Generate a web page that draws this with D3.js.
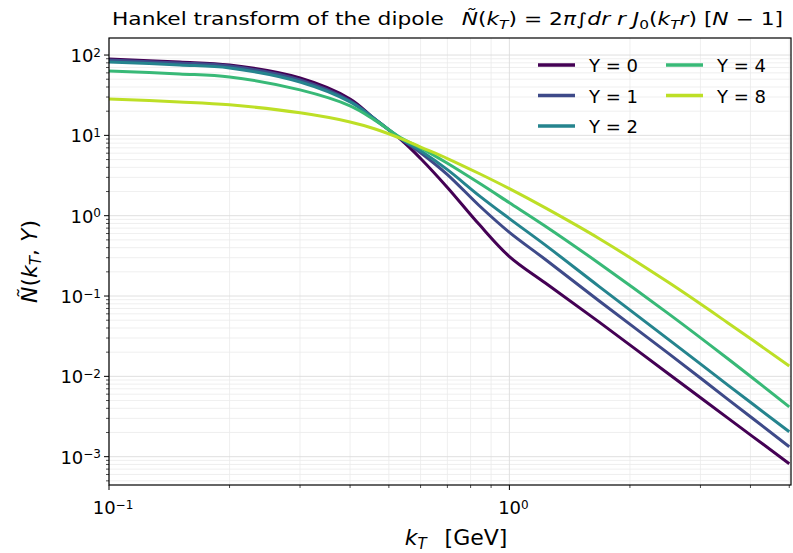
<!DOCTYPE html>
<html>
<head>
<meta charset="utf-8">
<script src="https://cdn.jsdelivr.net/npm/d3@7"></script>
<style>
  body { margin: 0; background: #fff; }
  text { font-family: "DejaVu Sans", sans-serif; fill: #000; }
</style>
</head>
<body>
<svg id="chart" width="793" height="553"></svg>
<script>
// kT grid [GeV]
var kT = [0.1, 0.15, 0.2, 0.3, 0.4, 0.46, 0.54, 0.6, 0.7, 0.84, 1.0, 1.23, 1.67, 2.5, 3.5, 5.0];

// rapidities and curve values
var rapidities = [0, 1, 2, 4, 8];
var N_Y0 = [89.2, 81.9, 75.2, 51.8, 28.4, 16.1, 8.57, 5.16, 2.25, 0.78, 0.31, 0.145, 0.048, 0.0107, 0.00306, 0.000818];
var N_Y1 = [86.7, 79.6, 73.0, 48.9, 26.9, 16.1, 8.82, 6.08, 3.25, 1.34, 0.62, 0.285, 0.088, 0.0192, 0.00525, 0.00133];
var N_Y2 = [81.9, 75.2, 69.0, 46.2, 26.1, 16.1, 8.82, 6.44, 3.74, 1.78, 0.92, 0.43, 0.133, 0.0287, 0.0079, 0.00204];
var N_Y4 = [63.3, 58.1, 53.3, 36.8, 23.3, 15.6, 9.1, 7.0, 4.5, 2.55, 1.45, 0.74, 0.258, 0.0600, 0.0168, 0.00417];
var N_Y8 = [28.4, 26.1, 24.0, 19.1, 14.7, 12.1, 9.0, 7.15, 5.15, 3.35, 2.17, 1.25, 0.524, 0.147, 0.0469, 0.01345];

var xTicks = [0.1, 1];
var yTicks = [1e-3, 1e-2, 1e-1, 1, 10, 100];

var series = [N_Y0, N_Y1, N_Y2, N_Y4, N_Y8];
var colorT = [0, 0.225, 0.45, 0.675, 0.9];

var margin = { left: 109, right: 2, top: 38, bottom: 68 };
var width = 793 - margin.left - margin.right;
var height = 553 - margin.top - margin.bottom;

var svg = d3.select('#chart');
var g = svg.append('g').attr('transform', 'translate(' + margin.left + ',' + margin.top + ')');

var x = d3.scaleLog().domain([0.1, 5.05]).range([0, width]);
var y = d3.scaleLog().domain([163, 4.44e-4]).range([0, height]);

// minor values
var xMinor = [];
[0.1, 1].forEach(function (d) {
	for (var k = 2; k <= 9; k++) { if (d * k <= 5.05) xMinor.push(d * k); }
});
var yMinor = [];
[1e-4, 1e-3, 1e-2, 1e-1, 1, 10, 100].forEach(function (d) {
	for (var k = 2; k <= 9; k++) {
		var v = d * k;
		if (v >= 4.44e-4 && v <= 163) yMinor.push(v);
	}
});

// grid
g.append('g').selectAll('line.xmin').data(xMinor).enter().append('line')
	.attr('x1', function (d) { return x(d); }).attr('x2', function (d) { return x(d); })
	.attr('y1', 0).attr('y2', height)
	.attr('stroke', '#ebebeb').attr('stroke-width', 0.8);
g.append('g').selectAll('line.ymin').data(yMinor).enter().append('line')
	.attr('y1', function (d) { return y(d); }).attr('y2', function (d) { return y(d); })
	.attr('x1', 0).attr('x2', width)
	.attr('stroke', '#ebebeb').attr('stroke-width', 0.8);
g.append('g').selectAll('line.xmaj').data(xTicks).enter().append('line')
	.attr('x1', function (d) { return x(d); }).attr('x2', function (d) { return x(d); })
	.attr('y1', 0).attr('y2', height)
	.attr('stroke', '#dcdcdc').attr('stroke-width', 0.9);
g.append('g').selectAll('line.ymaj').data(yTicks).enter().append('line')
	.attr('y1', function (d) { return y(d); }).attr('y2', function (d) { return y(d); })
	.attr('x1', 0).attr('x2', width)
	.attr('stroke', '#dcdcdc').attr('stroke-width', 0.9);

// curves
var line = d3.line()
	.x(function (d) { return x(d[0]); })
	.y(function (d) { return y(d[1]); })
	.curve(d3.curveCatmullRom.alpha(0.5));

g.append('g').selectAll('path.curve').data(series).enter().append('path')
	.attr('d', function (s) { return line(kT.map(function (k, i) { return [k, s[i]]; })); })
	.attr('fill', 'none')
	.attr('stroke', function (s, i) { return d3.interpolateViridis(colorT[i]); })
	.attr('stroke-width', 3);

// frame
g.append('rect').attr('width', width).attr('height', height)
	.attr('fill', 'none').attr('stroke', '#000').attr('stroke-width', 1.2);

// ticks
function expLabel(sel, exp) {
	sel.append('tspan').text('10');
	sel.append('tspan').attr('dy', '-0.45em').attr('font-size', '12px').text(exp);
}
function exponent(d) {
	var e = Math.round(Math.log10(d));
	return e < 0 ? '\u2212' + (-e) : String(e);
}

g.append('g').selectAll('line.xt').data(xTicks).enter().append('line')
	.attr('x1', function (d) { return x(d); }).attr('x2', function (d) { return x(d); })
	.attr('y1', height).attr('y2', height + 5).attr('stroke', '#000');
g.append('g').selectAll('line.xmt').data(xMinor).enter().append('line')
	.attr('x1', function (d) { return x(d); }).attr('x2', function (d) { return x(d); })
	.attr('y1', height).attr('y2', height + 3).attr('stroke', '#000').attr('stroke-width', 0.7);
g.append('g').selectAll('line.yt').data(yTicks).enter().append('line')
	.attr('y1', function (d) { return y(d); }).attr('y2', function (d) { return y(d); })
	.attr('x1', -5).attr('x2', 0).attr('stroke', '#000');
g.append('g').selectAll('line.ymt').data(yMinor).enter().append('line')
	.attr('y1', function (d) { return y(d); }).attr('y2', function (d) { return y(d); })
	.attr('x1', -3).attr('x2', 0).attr('stroke', '#000').attr('stroke-width', 0.7);

g.append('g').selectAll('text.xl').data(xTicks).enter().append('text')
	.attr('x', function (d) { return x(d) + 4; })
	.attr('y', height + 29)
	.attr('text-anchor', 'middle')
	.attr('font-size', '18px')
	.each(function (d) { expLabel(d3.select(this), exponent(d)); });

g.append('g').selectAll('text.yl').data(yTicks).enter().append('text')
	.attr('x', -8)
	.attr('y', function (d) { return y(d) + 7; })
	.attr('text-anchor', 'end')
	.attr('font-size', '18px')
	.each(function (d) { expLabel(d3.select(this), exponent(d)); });

// axis labels
var xl = svg.append('text')
	.attr('x', margin.left + width / 2 + 6).attr('y', 545)
	.attr('text-anchor', 'middle').attr('font-size', '22px');
xl.append('tspan').attr('font-style', 'italic').text('k');
xl.append('tspan').attr('font-style', 'italic').attr('font-size', '15px').attr('dy', '4').text('T');
xl.append('tspan').attr('dy', '-4').text('\u2002 [GeV]');

var yl = svg.append('text')
	.attr('transform', 'translate(37,' + (margin.top + height / 2) + ') rotate(-90)')
	.attr('text-anchor', 'middle').attr('font-size', '22px');
yl.append('tspan').attr('font-style', 'italic').text('\u00D1');
yl.append('tspan').text('(');
yl.append('tspan').attr('font-style', 'italic').text('k');
yl.append('tspan').attr('font-style', 'italic').attr('font-size', '15px').attr('dy', '4').text('T');
yl.append('tspan').attr('dy', '-4').text(', ');
yl.append('tspan').attr('font-style', 'italic').text('Y');
yl.append('tspan').text(')');

// title
var title = svg.append('text').attr('x', 112).attr('y', 25).attr('font-size', '17px');
var parts = [
	['Hankel transform of the dipole \u2002', 'normal', 0],
	['\u00D1', 'italic', 0], ['(', 'normal', 0], ['k', 'italic', 0], ['T', 'italic', 1],
	[')', 'normal', -1], [' = 2', 'normal', 0], ['\u03C0', 'italic', 0], ['\u222B', 'normal', 0],
	['dr r J', 'italic', 0], ['0', 'normal', 1], ['(', 'normal', -1], ['k', 'italic', 0],
	['T', 'italic', 1], ['r', 'italic', -1], [') [', 'normal', 0], ['N', 'italic', 0],
	[' \u2212 1]', 'normal', 0]
];
parts.forEach(function (p) {
	var t = title.append('tspan').attr('font-style', p[1]).text(p[0]);
	if (p[2] === 1) t.attr('font-size', '12px').attr('dy', 4);
	if (p[2] === -1) t.attr('dy', -4);
});
var tw = title.node().getComputedTextLength();
if (tw > 0) title.attr('textLength', 671).attr('lengthAdjust', 'spacingAndGlyphs');

// legend
var legendCols = [[0, 1, 2], [3, 4]];
var legend = svg.append('g');
legendCols.forEach(function (col, c) {
	col.forEach(function (idx, r) {
		var lx = 538 + c * 128, ly = 65 + r * 30.5;
		legend.append('line')
			.attr('x1', lx).attr('x2', lx + 37).attr('y1', ly).attr('y2', ly)
			.attr('stroke', d3.interpolateViridis(colorT[idx])).attr('stroke-width', 3.5);
		legend.append('text')
			.attr('x', lx + 51).attr('y', ly + 7).attr('font-size', '18px')
			.text('Y = ' + rapidities[idx]);
	});
});
</script>
</body>
</html>
